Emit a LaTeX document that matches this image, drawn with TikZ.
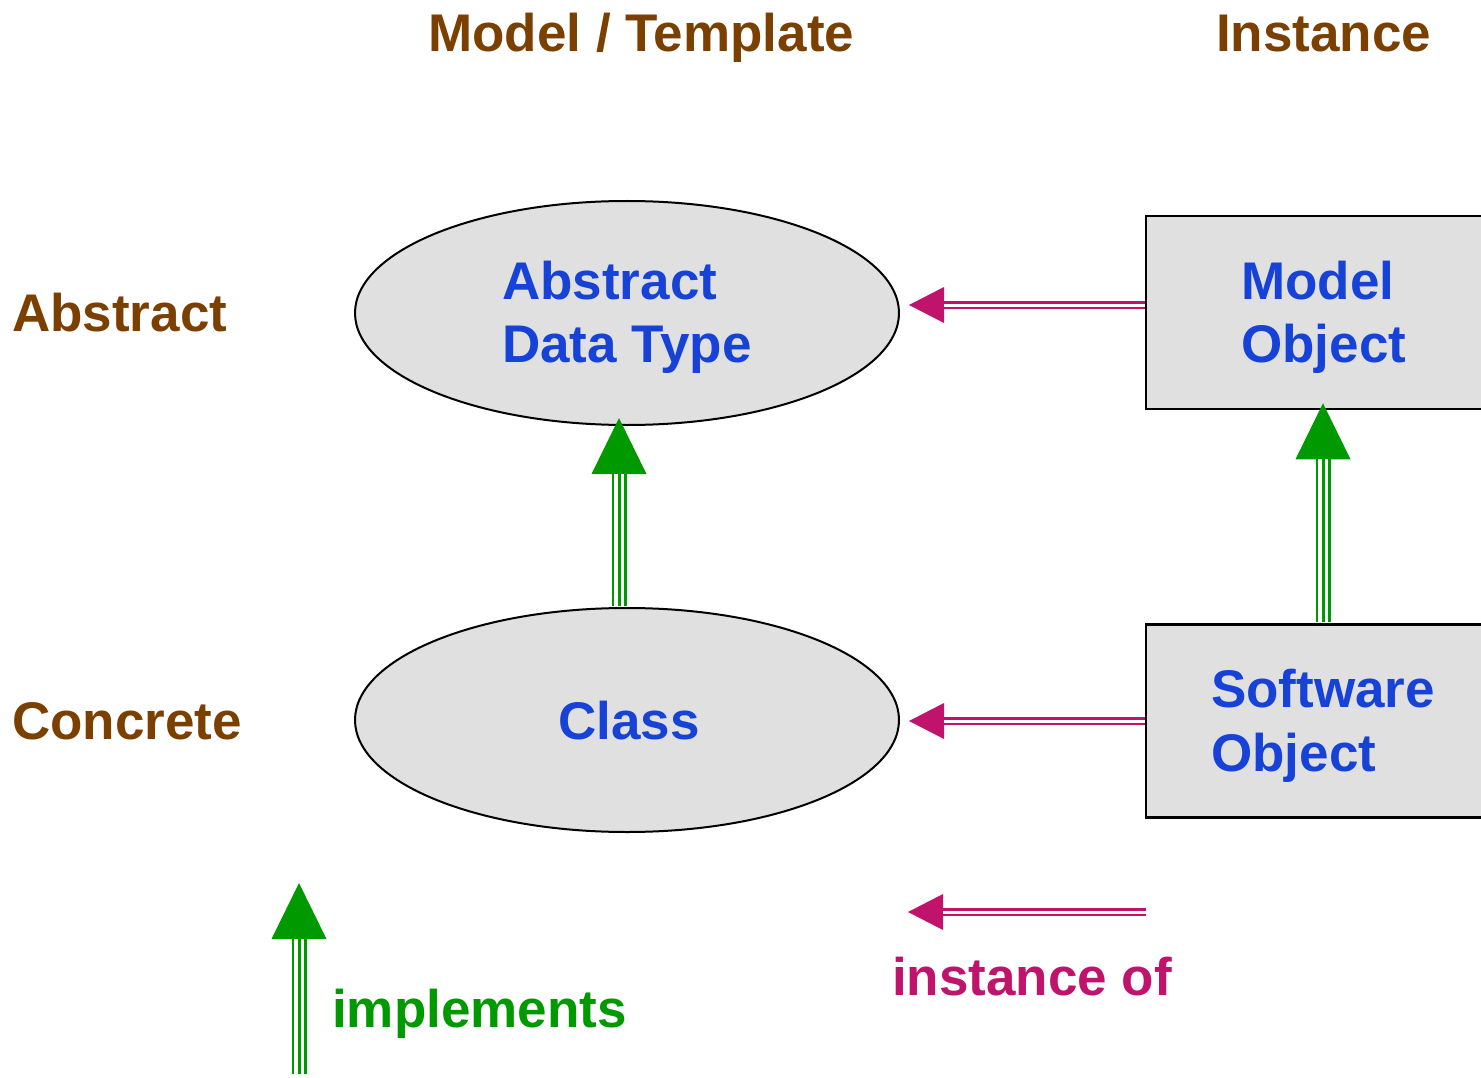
\documentclass[tikz,border=0pt]{standalone}
\usepackage{fontspec}
\setmainfont{Liberation Sans}
\usetikzlibrary{shapes.geometric,arrows.meta,calc}
\definecolor{hdr}{RGB}{123,63,0}
\definecolor{txt}{RGB}{22,66,216}
\definecolor{inst}{RGB}{192,20,108}
\definecolor{impl}{RGB}{0,153,0}
\definecolor{shade}{RGB}{224,224,224}
\begin{document}
\begin{tikzpicture}[x=1pt,y=-1pt,
  lbl/.style={anchor=base west, inner sep=0pt, font=\fontsize{53}{64}\selectfont\bfseries},
  hdrtext/.style={lbl, text=hdr},
  bodytext/.style={lbl, text=txt},
  ell/.style={ellipse, draw=black, line width=2pt, fill=shade, minimum width=544pt, minimum height=224pt, inner sep=0pt},
  obj/.style={rectangle, draw=black, line width=2.5pt, fill=shade, minimum width=354pt, minimum height=193pt, inner sep=0pt},
  instof/.style={draw=inst, line width=8pt, -{Triangle[length=35pt,width=36pt,line width=0pt]},
    postaction={draw=white, line width=3pt, shorten >=35pt, arrows=-}},
  implements/.style={draw=impl, line width=15pt, -{Triangle[length=56pt,width=55pt,line width=0pt]},
    postaction={draw=white, line width=9.5pt, shorten >=56pt, arrows=-},
    postaction={draw=impl, line width=3pt, shorten >=56pt, arrows=-}}]
\useasboundingbox (0,0) rectangle (1481,1078);
\clip (0,0) rectangle (1481,1078);

% shapes
\node[ell] (adt) at (627,313) {};
\node[ell] (cls) at (627,720) {};
\node[obj] (mo) at (1323,312.5) {};
\node[obj] (so) at (1323,721) {};

% headers
\node[hdrtext] (hModel) at (428,52) {Model / Template};
\node[hdrtext] (hInst) at (1216,52) {Instance};
\node[hdrtext] (hAbs) at (12,331) {Abstract};
\node[hdrtext] (hCon) at (12,739) {Concrete};

% body texts
\node[bodytext] (tAdtA) at (502,299) {Abstract};
\node[bodytext] (tAdtB) at (502,362) {Data Type};
\node[bodytext] (tCls) at (558,739) {Class};
\node[bodytext] (tMoA) at (1241,299) {Model};
\node[bodytext] (tMoB) at (1241,362) {Object};
\node[bodytext] (tSoA) at (1211,707) {Software};
\node[bodytext] (tSoB) at (1211,771) {Object};

% legend labels
\node[lbl, text=inst] (lInst) at (892,995) {instance of};
\node[lbl, text=impl] (lImpl) at (332,1027) {implements};

% instance-of connectors
\coordinate (moOut) at ($(mo.west)+(0,-7.5)$);
\coordinate (adtIn) at ($(adt.east)+(9,-8)$);
\draw[instof] (moOut) -- (adtIn);
\coordinate (soOut) at ($(so.west)+(0,0)$);
\coordinate (clsIn) at ($(cls.east)+(9,1)$);
\draw[instof] (soOut) -- (clsIn);

% implements connectors
\coordinate (clsOut) at ($(cls.north)+(-8,-1)$);
\coordinate (adtBot) at ($(adt.south)+(-8,-8)$);
\draw[implements] (clsOut) -- (adtBot);
\coordinate (soTop) at ($(so.north)+(0,-1)$);
\coordinate (moBot) at ($(mo.south)+(0,-7)$);
\draw[implements] (soTop) -- (moBot);

% legend connectors
\coordinate (legIa) at (1146,912);
\coordinate (legIb) at (908,912);
\draw[instof] (legIa) -- (legIb);
\coordinate (legGa) at (299,1074);
\coordinate (legGb) at (299,883);
\draw[implements] (legGa) -- (legGb);
\end{tikzpicture}
\end{document}
